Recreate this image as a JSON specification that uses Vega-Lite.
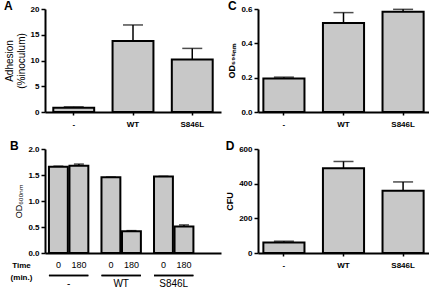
{
  "$schema": "https://vega.github.io/schema/vega-lite/v6.json",
  "padding": {"left": 4, "top": 0, "right": 0, "bottom": 0},
  "background": "#ffffff",
  "datasets": {
    "a": [
      {"g": "-", "v": 0.84, "e": 1.0},
      {"g": "WT", "v": 13.8, "e": 16.9},
      {"g": "S846L", "v": 10.2, "e": 12.35}
    ],
    "b": [
      {"g": "-", "t": "0", "v": 1.66, "e": 1.67},
      {"g": "-", "t": "180", "v": 1.68, "e": 1.71},
      {"g": "WT", "t": "0", "v": 1.455, "e": 1.46},
      {"g": "WT", "t": "180", "v": 0.42, "e": 0.43},
      {"g": "S846L", "t": "0", "v": 1.47, "e": 1.475},
      {"g": "S846L", "t": "180", "v": 0.51, "e": 0.54}
    ],
    "c": [
      {"g": "-", "v": 0.195, "e": 0.203},
      {"g": "WT", "v": 0.519, "e": 0.579},
      {"g": "S846L", "v": 0.584, "e": 0.598}
    ],
    "d": [
      {"g": "-", "v": 61, "e": 68},
      {"g": "WT", "v": 489, "e": 528},
      {"g": "S846L", "v": 359, "e": 410}
    ]
  },
  "columns": 2,
  "spacing": {"row": 12, "column": 4},
  "concat": [
    {
      "width": 176, "height": 103,
      "title": {"text": "A"},
      "data": {"name": "a"},
      "encoding": {
        "x": {"field": "g", "type": "nominal", "sort": ["-", "WT", "S846L"],
              "scale": {"paddingInner": 0.31, "paddingOuter": 0.14},
              "axis": {"title": null, "labelAngle": 0}},
        "y": {"field": "v", "type": "quantitative", "scale": {"domain": [0, 20]},
              "axis": {"values": [0, 5, 10, 15, 20], "title": ["Adhesion", "(%inoculum)"]}}
      },
      "layer": [
        {"mark": {"type": "bar", "fill": "#c8c8c8", "stroke": "#000000", "strokeWidth": 2}},
        {"mark": {"type": "rule", "stroke": "#000000", "strokeWidth": 1.5},
         "encoding": {"y2": {"field": "e"}}},
        {"mark": {"type": "tick", "color": "#000000", "size": 20, "thickness": 1.5},
         "encoding": {"y": {"field": "e", "type": "quantitative"}}}
      ]
    },
    {
      "width": 171, "height": 103,
      "title": {"text": "C"},
      "data": {"name": "c"},
      "encoding": {
        "x": {"field": "g", "type": "nominal", "sort": ["-", "WT", "S846L"],
              "scale": {"paddingInner": 0.31, "paddingOuter": 0.09},
              "axis": {"title": null, "labelAngle": 0}},
        "y": {"field": "v", "type": "quantitative", "scale": {"domain": [0, 0.6]},
              "axis": {"values": [0, 0.2, 0.4, 0.6], "format": ".1f", "title": "OD₅₉₅ₙₘ", "titleFontWeight": "bold", "titleFontSize": 9}}
      },
      "layer": [
        {"mark": {"type": "bar", "fill": "#c8c8c8", "stroke": "#000000", "strokeWidth": 2}},
        {"mark": {"type": "rule", "stroke": "#000000", "strokeWidth": 1.5},
         "encoding": {"y2": {"field": "e"}}},
        {"mark": {"type": "tick", "color": "#000000", "size": 20, "thickness": 1.5},
         "encoding": {"y": {"field": "e", "type": "quantitative"}}}
      ]
    },
    {
      "width": 176, "height": 104,
      "title": {"text": "B"},
      "data": {"name": "b"},
      "encoding": {
        "x": {"field": "g", "type": "nominal", "sort": ["-", "WT", "S846L"],
              "scale": {"paddingInner": 0.25, "paddingOuter": 0.3, "align": 0.125},
              "axis": {"title": ["Time", "(min.)"], "labelAngle": 0, "ticks": false, "labelPadding": 25,
                       "labelFontSize": 10, "labelFontWeight": "normal",
                       "titleX": -24, "titleY": 8, "titleAlign": "center", "titleBaseline": "top",
                       "titleFontSize": 8, "titleFontWeight": "bold", "titleLineHeight": 12, "titleAngle": 0}},
        "y": {"field": "v", "type": "quantitative", "scale": {"domain": [0, 2]},
              "axis": {"values": [0, 0.5, 1, 1.5, 2], "format": ".1f", "title": "OD₆₀₀ₙₘ", "titleFontSize": 9}}
      },
      "layer": [
        {"mark": {"type": "bar", "fill": "#c8c8c8", "stroke": "#000000", "strokeWidth": 2},
         "encoding": {
           "xOffset": {"field": "t", "type": "nominal", "sort": ["0", "180"], "scale": {"paddingInner": 0.08}}}},
        {"mark": {"type": "rule", "stroke": "#000000", "strokeWidth": 1.5},
         "encoding": {
           "xOffset": {"field": "t", "type": "nominal", "sort": ["0", "180"]},
           "y2": {"field": "e"}}},
        {"mark": {"type": "tick", "color": "#000000", "size": 10, "thickness": 1.5},
         "encoding": {
           "xOffset": {"field": "t", "type": "nominal", "sort": ["0", "180"]},
           "y": {"field": "e", "type": "quantitative"}}},
        {"mark": {"type": "text", "fontSize": 9, "baseline": "middle", "color": "#000000", "font": "Liberation Sans"},
         "encoding": {
           "xOffset": {"field": "t", "type": "nominal", "sort": ["0", "180"]},
           "y": {"datum": -0.24},
           "text": {"field": "t"}}},
        {"mark": {"type": "bar", "fill": "#000000", "stroke": null},
         "encoding": {
           "y": {"datum": -0.42},
           "y2": {"datum": -0.445}}}
      ]
    },
    {
      "width": 171, "height": 104,
      "title": {"text": "D"},
      "data": {"name": "d"},
      "encoding": {
        "x": {"field": "g", "type": "nominal", "sort": ["-", "WT", "S846L"],
              "scale": {"paddingInner": 0.31, "paddingOuter": 0.09},
              "axis": {"title": null, "labelAngle": 0}},
        "y": {"field": "v", "type": "quantitative", "scale": {"domain": [0, 600]},
              "axis": {"values": [0, 200, 400, 600], "title": "CFU", "titleFontWeight": "bold", "titleFontSize": 9}}
      },
      "layer": [
        {"mark": {"type": "bar", "fill": "#c8c8c8", "stroke": "#000000", "strokeWidth": 2}},
        {"mark": {"type": "rule", "stroke": "#000000", "strokeWidth": 1.5},
         "encoding": {"y2": {"field": "e"}}},
        {"mark": {"type": "tick", "color": "#000000", "size": 20, "thickness": 1.5},
         "encoding": {"y": {"field": "e", "type": "quantitative"}}}
      ]
    }
  ],
  "config": {
    "view": {"stroke": null},
    "font": "Liberation Sans",
    "axis": {
      "domainColor": "#000000", "domainWidth": 2,
      "tickColor": "#000000", "tickWidth": 1.5, "tickSize": 4,
      "labelColor": "#000000", "labelFont": "Liberation Sans", "labelFontWeight": "bold", "labelFontSize": 8,
      "titleColor": "#000000", "titleFont": "Liberation Sans", "titleFontWeight": "normal", "titleFontSize": 10,
      "grid": false, "labelPadding": 2, "titlePadding": 4
    },
    "axisX": {"tickSize": 3, "labelPadding": 5},
    "title": {"anchor": "start", "frame": "bounds", "fontSize": 12, "fontWeight": "bold", "offset": -8, "color": "#000000", "font": "Liberation Sans"}
  }
}
